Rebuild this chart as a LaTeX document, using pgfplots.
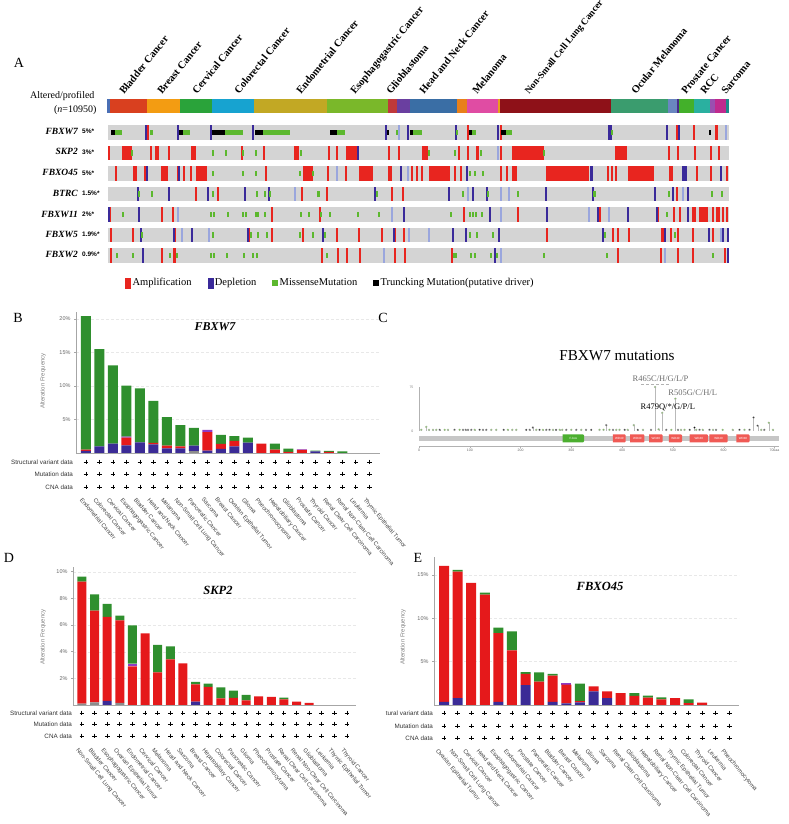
\documentclass[border=0pt]{standalone}
\usepackage{pgfplots}
\pgfplotsset{compat=1.18}
\usepackage{pgfplotstable}
\usepackage{fontspec}
\setmainfont{Liberation Serif}
\newfontfamily\sans{Liberation Sans}
\newcommand{\fs}[1]{\fontsize{#1}{#1}\selectfont}
\definecolor{cred}{HTML}{E5191B}
\definecolor{cblue}{HTML}{3B2B96}
\definecolor{cgreen}{HTML}{2F8F2E}
\definecolor{cpurple}{HTML}{8E3CC6}
\definecolor{cgray}{HTML}{8C8C8C}
\definecolor{ored}{HTML}{E8251F}
\definecolor{oblue}{HTML}{3A2A9A}
\definecolor{olblue}{HTML}{9AA6DD}
\definecolor{ogreen}{HTML}{5CB82E}
\definecolor{ctrack}{HTML}{D4D4D4}
\definecolor{t1}{HTML}{4A6FB5}\definecolor{t2}{HTML}{D9401F}\definecolor{t3}{HTML}{F39C12}
\definecolor{t4}{HTML}{2AA33A}\definecolor{t5}{HTML}{17A3D0}\definecolor{t6}{HTML}{C2A824}
\definecolor{t7}{HTML}{7AB82A}\definecolor{t8}{HTML}{C0393B}\definecolor{t9}{HTML}{6A3FA0}
\definecolor{t10}{HTML}{3A6EA5}\definecolor{t11}{HTML}{E8801A}\definecolor{t12}{HTML}{E04CA3}
\definecolor{t13}{HTML}{E8A01A}\definecolor{t14}{HTML}{8E1118}\definecolor{t15}{HTML}{3A9C6E}
\definecolor{t16}{HTML}{6A86C0}\definecolor{t17}{HTML}{4A2A8A}\definecolor{t18}{HTML}{43B02A}
\definecolor{t19}{HTML}{2AB0A0}\definecolor{t20}{HTML}{9A4FB0}\definecolor{t21}{HTML}{C02A8E}
\definecolor{t22}{HTML}{1F8A8A}
\definecolor{cdom}{HTML}{F05A55}
\definecolor{cfbox}{HTML}{4CAF30}
\definecolor{lgreen}{HTML}{6ABF3A}

\pgfplotsset{ev/.style 2 args={draw=none, mark=none, error bars/.cd, x dir=both, x explicit, error mark=none, error bar style={line width=#2, draw=#1}}}
\newcommand{\seg}[3]{\addplot[ev={#1}{14.5pt}] coordinates {(#2,-1.29) +- (#3,0)};}

\pgfplotstableread{
x w r
40 0.9 0
360 0.9 0
393 0.9 0
569 0.9 0
586 0.9 0
608.5 1.2 0
0.5 0.9 1
19 5 1
43 0.9 1
49 2 1
61 0.9 1
85.5 2.5 1
134 0.9 1
156 0.9 1
188.5 2.5 1
221 0.9 1
229 0.9 1
244 6 1
281 0.9 1
291 0.9 1
317 3 1
351 0.9 1
360 0.9 1
369.5 1.5 1
393 0.9 1
420 16 1
513 6 1
561 0.9 1
570 0.9 1
587 0.9 1
603 0.9 1
611 1 1
8 0.9 2
27 2 2
37 0.9 2
56.5 3.5 2
70 0.9 2
76 0.9 2
83 0.9 2
93.5 5.5 2
158 0.9 2
200 5 2
220 0.9 2
238 0.9 2
258 7 2
281 0.9 2
283 0.9 2
304 0.9 2
309 0.9 2
314 0.9 2
331.5 10.5 2
347 0.9 2
353 0.9 2
393 0.9 2
399 0.9 2
406.5 2.5 2
459.5 21.5 2
500 0.9 2
504 0.9 2
508 1 2
533 13 2
562 0.9 2
564 0.9 2
589 0.9 2
603 0.9 2
619 0.9 2
88 0.9 3
110 0.9 3
194 0.9 3
219 0.9 3
284 0.9 3
295 0.9 3
569 0.9 3
2 0.9 4
54 0.9 4
64.5 1 4
164 0.9 4
212 0.9 4
356 0.9 4
410 0.9 4
492 0.9 4
550 0.9 4
566 0.9 4
572 0.9 4
586 2 4
595.5 4.5 4
605 0.9 4
609 0.9 4
611 0.9 4
615 0.9 4
619 0.9 4
3 0.9 5
25 0.9 5
67 0.9 5
141 0.9 5
164 0.9 5
195 0.9 5
229 0.9 5
251 0.9 5
274 0.9 5
287 0.9 5
296 1 5
439 0.9 5
505 0.9 5
510 0.9 5
521 0.9 5
555 2 5
563 0.9 5
570 0.9 5
585 0.9 5
605 0.9 5
3 0.9 6
54 0.9 6
66.5 1.5 6
214 0.9 6
230 0.9 6
239 0.9 6
252 0.9 6
287 0.9 6
297 0.9 6
344 0.9 6
510 0.9 6
553 0.9 6
570 0.9 6
585 0.9 6
617 0.9 6
}\OncoRed

\pgfplotstableread{
x w r
38 0.9 0
70 0.9 0
103 0.9 0
145 0.9 0
278 1 0
300 0.9 0
348 1 0
390 0.9 0
502 2 0
559 0.9 0
571 0.9 0
250 0.9 1
39 0.9 2
71 0.9 2
293 1 2
359 0.9 2
483 1.5 2
576.5 2.5 2
613 0.9 2
30 0.9 3
61 0.9 3
100 0.9 3
137 0.9 3
161 0.9 3
267 0.9 3
341 0.9 3
365 0.9 3
379 0.9 3
438 0.9 3
485 0.9 3
547 0.9 3
565 0.9 3
580 0.9 3
1 0.9 4
31 0.9 4
296 0.9 4
382 0.9 4
439 0.9 4
490 0.9 4
520 0.9 4
549 1 4
580 0.9 4
33 0.9 5
66 0.9 5
84 0.9 5
140 0.9 5
215 0.9 5
286 0.9 5
345 0.9 5
358 0.9 5
391 0.9 5
495 0.9 5
557 0.9 5
601 0.9 5
615 0.9 5
620 0.9 5
34.5 1 6
387 0.9 6
620 0.9 6
}\OncoBlue

\pgfplotstableread{
x w r
291 0.7 0
618 0.7 0
390 0.7 1
229 0.7 2
300 0.7 2
187 0.7 3
360 0.7 3
393 0.7 3
401 0.7 3
575 0.7 3
70 0.7 4
284 0.7 4
393 0.7 4
481 0.7 4
501 0.7 4
74 0.7 5
101 0.7 5
301 0.7 5
321 0.7 5
613 0.7 5
276 0.7 6
393 0.7 6
557 0.7 6
}\OncoLBlue

\pgfplotstableread{
x w r
10.5 3.5 0
43.5 1.5 0
78.5 3.5 0
126 9 0
168.5 13.5 0
233 4 0
289 0.8 0
309.5 4.5 0
349 0.8 0
366 2 0
401 3 0
504 0.8 0
24 0.8 1
105 0.6 1
118 0.6 1
134.5 0.6 1
148 0.6 1
193 0.8 1
321 0.8 1
347 0.6 1
373 1 1
436 0.8 1
105 0.6 2
135 0.6 2
148 0.6 2
192 0.6 2
205 0.8 2
362 0.6 2
367 0.6 2
375 0.8 2
31 0.8 3
44 0.6 3
105 0.6 3
149 0.6 3
157 0.6 3
162 0.8 3
210.5 1.5 3
269 0.8 3
355 0.8 3
380 0.8 3
410 0.6 3
486.5 1.5 3
561 0.6 3
604 0.6 3
614 0.6 3
15 0.6 4
103 0.6 4
106 0.6 4
120 0.6 4
135 0.6 4
138 0.6 4
148 0.6 4
150 0.6 4
157 0.6 4
193 0.6 4
201 0.6 4
213 0.8 4
222 0.6 4
250 0.6 4
271 0.8 4
343 0.6 4
362 0.6 4
365 0.6 4
368 0.6 4
374 0.8 4
559 0.6 4
34 0.8 5
105 0.6 5
143 1 5
150 0.6 5
159 0.6 5
192 0.6 5
205 0.8 5
217 0.8 5
362 0.6 5
369 0.6 5
385 1 5
497 0.6 5
567 0.6 5
9 0.6 6
25 0.6 6
62 0.6 6
69 0.8 6
103 0.6 6
106 0.6 6
119 0.6 6
136 0.6 6
145 0.6 6
149 0.6 6
219 0.6 6
346 0.6 6
348 0.6 6
363 0.6 6
367 0.6 6
383 0.6 6
388.5 1 6
436 0.6 6
499 0.8 6
605 0.6 6
}\OncoGreen

\pgfplotstableread{
x w r
5 2 0
73 2 0
110.5 6.5 0
151 4 0
225.5 3.5 0
280 0.8 0
303.5 1.5 0
362.5 1.5 0
395.5 2.5 0
602 0.6 0
}\OncoBlack

\pgfplotstableread{
i gray blue red purple green
0 0 0.3 0.2 0 19.95
1 0 1.0 0 0 14.5
2 0 1.4 0 0 11.67
3 0 1.15 1.15 0.15 7.6
4 0 1.6 0 0 8.05
5 0 1.3 0.2 0 6.27
6 0 0.7 0.4 0 4.25
7 0 0.7 0.3 0 3.16
8 0.3 0.8 0 0 2.66
9 0 0.35 2.75 0.37 0
10 0 0.6 0.75 0 1.37
11 0 1.0 0.8 0 0.72
12 0 1.55 0 0 0.73
13 0 0 1.39 0 0
14 0 0 0.5 0 0.89
15 0 0 0.15 0 0.49
16 0 0 0.45 0.1 0
17 0 0.25 0 0 0.1
18 0 0 0.15 0 0.15
19 0 0 0 0 0.25
20 0 0 0 0 0
21 0 0 0 0 0
}\Bdata

\pgfplotstableread{
i gray blue red purple green
0 0.1 0 9.15 0 0.38
1 0.2 0 6.88 0 1.22
2 0 0.3 6.3 0 0.98
3 0.15 0 6.2 0 0.35
4 0 0 2.9 0.2 2.88
5 0 0 5.38 0 0
6 0 0 2.45 0 2.05
7 0 0 3.43 0 0.97
8 0 0 3.13 0 0
9 0 0.25 1.3 0 0.18
10 0 0 1.35 0 0.25
11 0 0 0.5 0 0.83
12 0 0 0.53 0 0.55
13 0 0 0.35 0 0.4
14 0 0 0.65 0 0
15 0 0 0.6 0 0
16 0 0 0.43 0 0.12
17 0 0 0.25 0 0
18 0 0 0.15 0 0
19 0 0 0 0 0
20 0 0 0 0 0
21 0 0 0 0 0
}\Ddata

\pgfplotstableread{
i gray blue red purple green
0 0 0.35 15.69 0 0
1 0 0.8 14.58 0 0.2
2 0 0 14.08 0 0
3 0 0 12.73 0 0.23
4 0 0.35 7.95 0 0.62
5 0 0 6.3 0 2.2
6 0 2.3 1.28 0 0.22
7 0 0 2.7 0 1.07
8 0 0.35 3.03 0 0.22
9 0 0.2 2.15 0.15 0
10 0 0.3 0.15 0 2.01
11 0 1.58 0.57 0 0
12 0 0.8 0.78 0 0
13 0 0 1.38 0 0
14 0 0 1.04 0 0.34
15 0 0 0.85 0 0.23
16 0 0 0.65 0 0.23
17 0 0 0.8 0 0
18 0 0 0.23 0 0.42
19 0 0 0.27 0 0
20 0 0 0 0 0
21 0 0 0 0 0
}\Edata

\pgfplotstableread{
aa n
4.6 2
14.4 7
19.7 2
27.6 2
34 2
50.5 2
57 2
80 2
109.6 2
142.4 2
152 2
175 2
183.7 2
191.6 2
231 2
244 2
263.8 2
277 2
282 2
300 2
319.6 2
355.6 2
363.5 2
375 2
388.5 2
395 2
411 2
423 10
441 2
465 75
472 3
479 31
497 2
505 55
516 2
523 2
546 2
559 2
579 2
598 2
618 2
641 2
674 2
689 14
697 2
}\LolGreen

\pgfplotstableread{
aa n
40.7 2
70 2
86.6 2
92 2
96.5 2
103 2
119.4 2
126 2
132.5 2
166.7 2
211 2
218 2
224.4 6
237.5 2
250.7 2
257 2
270 2
290 2
309.7 2
329 2
339 2
368.8 10
382 2
405 2
431 2
457 2
487 2
510 2
533 2
542.6 6
552.5 2
572 2
585 2
631 2
651 2
659 23
667 9
680 2
}\LolBlack

\pgfplotsset{
  barpanel/.style={scale only axis, anchor=south west, ybar stacked, ymin=0,
    axis lines=left, axis line style={-, draw=gray!70, line width=0.6pt},
    xtick={0,...,21}, xtick style={draw=none}, ytick style={draw=gray!70, thin},
    major tick length=2pt, tick align=outside,
    ymajorgrids, grid style={densely dashed, gray!18, line width=0.3pt},
    yticklabel style={font=\sans\fs{5.5}, text=gray!80!black},
    xticklabel style={font=\sans\fs{5.9}, text=black!75, yshift=-42pt, xshift=-3pt, rotate=-50, anchor=north west, inner sep=0pt},
    clip=false},
  plusrow/.style={scale only axis, anchor=north west, hide axis, clip=false, ymin=-40, ymax=0, height=40pt},
  pl/.style={only marks, mark=+, mark size=2.4pt, line width=0.95pt, black},
}

\newcommand{\stackbars}[1]{%
  \addplot[fill=cgray, draw=none] table[x=i, y=gray] {#1};
  \addplot[fill=cblue, draw=none] table[x=i, y=blue] {#1};
  \addplot[fill=cred, draw=none] table[x=i, y=red] {#1};
  \addplot[fill=cpurple, draw=none] table[x=i, y=purple] {#1};
  \addplot[fill=cgreen, draw=none] table[x=i, y=green] {#1};
}

\begin{document}
\begin{tikzpicture}[x=1pt,y=1pt]
\useasboundingbox (0,0) rectangle (789,824);

% ================= Panel A =================
\node[font=\fs{14}] at (19,761) {A};
\node[anchor=east, font=\fs{10}] at (98,728) {Altered/profiled};
\node[anchor=east, font=\fs{10}] at (100,714) {(\textit{n}=10950)};

\begin{axis}[scale only axis, width=621pt, height=172.2pt, at={(108pt,556.2pt)}, anchor=south west,
  xmin=0, xmax=621, ymin=-1.8, ymax=6.6, y dir=reverse, hide axis, clip=false]
  \addplot[ev={ctrack}{14.5pt}] coordinates {(310.5,0) +- (310.5,0) (310.5,1) +- (310.5,0) (310.5,2) +- (310.5,0) (310.5,3) +- (310.5,0) (310.5,4) +- (310.5,0) (310.5,5) +- (310.5,0) (310.5,6) +- (310.5,0)};
  \seg{t1}{0.5}{1.5}
  \seg{t2}{20.5}{18.5}
  \seg{t3}{55.5}{16.5}
  \seg{t4}{88}{16}
  \seg{t5}{125}{21}
  \seg{t6}{182.5}{36.5}
  \seg{t7}{249.5}{30.5}
  \seg{t8}{284.5}{4.5}
  \seg{t9}{295.5}{6.5}
  \seg{t10}{325.5}{23.5}
  \seg{t11}{354}{5}
  \seg{t12}{374.5}{15.5}
  \seg{t13}{391}{1}
  \seg{t14}{447.5}{55.5}
  \seg{t15}{531.5}{28.5}
  \seg{t16}{564.5}{4.5}
  \seg{t17}{570}{1}
  \seg{t18}{578.5}{7.5}
  \seg{t19}{594}{8}
  \seg{t20}{604.5}{2.5}
  \seg{t21}{612.5}{5.5}
  \seg{t22}{619.5}{1.5}
  \addplot[ev={olblue}{14.5pt}] table[x=x, y=r, x error=w] {\OncoLBlue};
  \addplot[ev={ored}{14.5pt}] table[x=x, y=r, x error=w] {\OncoRed};
  \addplot[ev={oblue}{14.5pt}] table[x=x, y=r, x error=w] {\OncoBlue};
  \addplot[ev={ogreen}{5.5pt}] table[x=x, y=r, x error=w] {\OncoGreen};
  \addplot[ev={black}{5.5pt}] table[x=x, y=r, x error=w] {\OncoBlack};
\end{axis}

% cancer type labels
\begin{scope}[every node/.style={anchor=base west, rotate=51, font=\bfseries\fs{10.5}, inner sep=0pt}]
\node at (124,729) {Bladder Cancer};
\node at (162,729) {Breast Cancer};
\node at (197,729) {Cervical Cancer};
\node at (239,729) {Colorectal Cancer};
\node at (301,729) {Endometrial Cancer};
\node at (355,729) {Esophagogastric Cancer};
\node at (391,729) {Glioblastoma};
\node at (424,729) {Head and Neck Cancer};
\node at (477,729) {Melanoma};
\node[font=\bfseries\fs{9.5}] at (529,729) {Non-Small Cell Lung Cancer};
\node at (636,729) {Ocular Melanoma};
\node at (686,729) {Prostate Cancer};
\node at (705,729) {RCC};
\node at (726,729) {Sarcoma};
\end{scope}

% gene labels
\begin{scope}[every node/.style={anchor=east, font=\bfseries\itshape\fs{9.5}, inner sep=0pt}]
\node at (78,693) {FBXW7};
\node at (78,672.3) {SKP2};
\node at (78,651.3) {FBXO45};
\node at (78,631) {BTRC};
\node at (78,610) {FBXW11};
\node at (78,590) {FBXW5};
\node at (78,570) {FBXW2};
\end{scope}
\begin{scope}[every node/.style={anchor=west, font=\sans\bfseries\fs{6.5}, inner sep=0pt}]
\node at (82,692.5) {5\%*};
\node at (82,671.8) {3\%*};
\node at (82,650.8) {5\%*};
\node at (82,630.5) {1.5\%*};
\node at (82,609.5) {2\%*};
\node at (82,589.5) {1.9\%*};
\node at (82,569.5) {0.9\%*};
\end{scope}

% legend
\begin{axis}[scale only axis, width=1pt, height=1pt, at={(125pt,541pt)}, anchor=south west,
  xmin=0, xmax=1, ymin=0, ymax=1, hide axis,
  legend style={at={(0,0)}, anchor=west, draw=none, fill=none, inner sep=0pt,
    font=\fs{10.5}, legend columns=4, /tikz/every even column/.append style={column sep=14pt}},
  legend cell align=left]
  \addlegendimage{legend image code/.code={\fill[ored] (0pt,-5pt) rectangle (5pt,5pt);}}
  \addlegendentry{Amplification}
  \addlegendimage{legend image code/.code={\fill[oblue] (0pt,-5pt) rectangle (5pt,5pt);}}
  \addlegendentry{Depletion}
  \addlegendimage{legend image code/.code={\fill[ogreen] (0pt,-2.5pt) rectangle (5pt,2.5pt);}}
  \addlegendentry{MissenseMutation}
  \addlegendimage{legend image code/.code={\fill[black] (0pt,-2.5pt) rectangle (5pt,2.5pt);}}
  \addlegendentry{Truncking Mutation(putative driver)}
\end{axis}

% ================= Panel B =================
\node[font=\fs{14}] at (18,506) {B};
\begin{axis}[barpanel, width=304pt, height=141.3pt, at={(76pt,371pt)},
  xmin=-0.74, xmax=21.78, ymax=21.1, bar width=10pt,
  ytick={5,10,15,20}, yticklabels={5\%,10\%,15\%,20\%},
  xticklabels={Endometrial Cancer,Colorectal Cancer,Cervical Cancer,Esophagogastric Cancer,Bladder Cancer,Head and Neck Cancer,Melanoma,Non-Small Cell Lung Cancer,Pancreatic Cancer,Sarcoma,Breast Cancer,Ovarian Epithelial Tumor,Glioma,Pheochromocytoma,Hepatobiliary Cancer,Glioblastoma,Prostate Cancer,Thyroid Cancer,Renal Clear Cell Carcinoma,Renal Non-Clear Cell Carcinoma,Leukemia,Thymic Epithelial Tumor}]
  \stackbars{\Bdata}
\end{axis}
\begin{axis}[plusrow, width=304pt, at={(76pt,371pt)}, xmin=-0.74, xmax=21.78]
  \addplot[pl] table[x=i, y expr=-9] {\Bdata};
  \addplot[pl] table[x=i, y expr=-21] {\Bdata};
  \addplot[pl] table[x=i, y expr=-34] {\Bdata};
\end{axis}
\node[font=\bfseries\itshape\fs{12}] at (215,497) {FBXW7};
\node[rotate=90, font=\sans\fs{6}, text=gray] at (43,443) {Alteration Frequency};
\begin{scope}[every node/.style={anchor=east, font=\sans\fs{6.3}, inner sep=0pt, text=black!80}]
\node at (73,362) {Structural variant data};
\node at (73,350) {Mutation data};
\node at (73,337) {CNA data};
\end{scope}

% ================= Panel C =================
\node[font=\fs{14}] at (383,506) {C};
\node[font=\fs{15.2}] at (617,468) {FBXW7 mutations};
\begin{axis}[scale only axis, width=360pt, height=62.2pt, at={(419pt,377.7pt)}, anchor=south west,
  xmin=0, xmax=709, ymin=-26, ymax=80, clip=false,
  axis x line=bottom, axis y line=none, axis line style={-, draw=gray!60, line width=0.3pt},
  xtick={0,100,200,300,400,500,600,700}, xticklabels={0,100,200,300,400,500,600,700aa},
  xtick style={draw=gray!60, line width=0.3pt}, major tick length=1.5pt, tick align=outside,
  xticklabel style={font=\sans\fs{3.5}, text=gray!80!black, inner sep=1pt}]
  \addplot[gray!60, line width=0.3pt] coordinates {(0,0) (0,75)};
  \addplot[fill=gray!45, draw=none] coordinates {(0,-8) (709,-8) (709,-16.5) (0,-16.5)};
  \addplot[fill=cfbox, draw=none, rounded corners=1pt] coordinates {(283,-5.6) (325,-5.6) (325,-19.3) (283,-19.3)};
  \addplot[fill=cdom, draw=none, rounded corners=1pt] coordinates {(382,-5.6) (407,-5.6) (407,-19.3) (382,-19.3)};
  \addplot[fill=cdom, draw=none, rounded corners=1pt] coordinates {(416,-5.6) (444,-5.6) (444,-19.3) (416,-19.3)};
  \addplot[fill=cdom, draw=none, rounded corners=1pt] coordinates {(453,-5.6) (480,-5.6) (480,-19.3) (453,-19.3)};
  \addplot[fill=cdom, draw=none, rounded corners=1pt] coordinates {(492,-5.6) (518,-5.6) (518,-19.3) (492,-19.3)};
  \addplot[fill=cdom, draw=none, rounded corners=1pt] coordinates {(533,-5.6) (569,-5.6) (569,-19.3) (533,-19.3)};
  \addplot[fill=cdom, draw=none, rounded corners=1pt] coordinates {(572,-5.6) (608,-5.6) (608,-19.3) (572,-19.3)};
  \addplot[fill=cdom, draw=none, rounded corners=1pt] coordinates {(625,-5.6) (651,-5.6) (651,-19.3) (625,-19.3)};
  \addplot[ycomb, gray!55, line width=0.3pt, mark=*, mark size=1pt, mark options={fill=black, draw=none}] table[x=aa, y=n] {\LolBlack};
  \addplot[ycomb, gray!55, line width=0.3pt, mark=*, mark size=1pt, mark options={fill=lgreen, draw=none}] table[x=aa, y=n] {\LolGreen};
  \addplot[gray!60, densely dashed, line width=0.3pt] coordinates {(437,80) (493,80)};
  \node[font=\sans\fs{3}, text=white] at (axis cs:304,-12.5) {F-box};
  \node[font=\sans\fs{3}, text=white] at (axis cs:394.5,-12.5) {WD40};
  \node[font=\sans\fs{3}, text=white] at (axis cs:430,-12.5) {WD40};
  \node[font=\sans\fs{3}, text=white] at (axis cs:466.5,-12.5) {WD40};
  \node[font=\sans\fs{3}, text=white] at (axis cs:505,-12.5) {WD40};
  \node[font=\sans\fs{3}, text=white] at (axis cs:551,-12.5) {WD40};
  \node[font=\sans\fs{3}, text=white] at (axis cs:590,-12.5) {WD40};
  \node[font=\sans\fs{3}, text=white] at (axis cs:638,-12.5) {WD40};
  \node[font=\sans\fs{3.5}, text=gray, anchor=east] at (axis cs:-4,0) {0};
  \node[font=\sans\fs{3.5}, text=gray, anchor=east] at (axis cs:-4,75) {75};
  \node[font=\fs{8.5}, text=gray!85!black] at (axis cs:475.7,88.6) {R465C/H/G/L/P};
  \node[font=\fs{8.5}, text=gray!85!black] at (axis cs:539,65) {R505G/C/H/L};
  \node[font=\fs{8.5}] at (axis cs:490,40) {R479Q/*/G/P/L};
\end{axis}

% ================= Panel D =================
\node[font=\fs{14}] at (9,266) {D};
\begin{axis}[barpanel, width=283pt, height=138pt, at={(73pt,119pt)},
  xmin=-0.71, xmax=21.71, ymax=10.35, bar width=9pt,
  ytick={2,4,6,8,10}, yticklabels={2\%,4\%,6\%,8\%,10\%},
  xticklabel style={yshift=1pt, xshift=-1pt},
  xticklabels={Non-Small Cell Lung Cancer,Bladder Cancer,Esophagogastric Cancer,Ovarian Epithelial Tumor,Endometrial Cancer,Cervical Cancer,Melanoma,Head and Neck Cancer,Sarcoma,Breast Cancer,Hepatobiliary Cancer,Colorectal Cancer,Pancreatic Cancer,Glioma,Pheochromocytoma,Prostate Cancer,Renal Clear Cell Carcinoma,Renal Non-Clear Cell Carcinoma,Glioblastoma,Leukemia,Thymic Epithelial Tumor,Thyroid Cancer}]
  \stackbars{\Ddata}
\end{axis}
\begin{axis}[plusrow, width=283pt, at={(73pt,119pt)}, xmin=-0.71, xmax=21.71]
  \addplot[pl] table[x=i, y expr=-8] {\Ddata};
  \addplot[pl] table[x=i, y expr=-19] {\Ddata};
  \addplot[pl] table[x=i, y expr=-31] {\Ddata};
\end{axis}
\node[font=\bfseries\itshape\fs{12.5}] at (218,234) {SKP2};
\node[rotate=90, font=\sans\fs{6}, text=gray] at (43,187) {Alteration Frequency};
\begin{scope}[every node/.style={anchor=east, font=\sans\fs{6.3}, inner sep=0pt, text=black!80}]
\node at (72,111) {Structural variant data};
\node at (72,100) {Mutation data};
\node at (72,88) {CNA data};
\end{scope}

% ================= Panel E =================
\node[font=\fs{14}] at (418,266) {E};
\begin{axis}[barpanel, width=305pt, height=148pt, at={(434pt,119pt)},
  xmin=-0.74, xmax=21.71, ymax=17.07, bar width=10pt,
  ytick={5,10,15}, yticklabels={5\%,10\%,15\%},
  xticklabel style={yshift=-1pt, xshift=-2pt},
  xticklabels={Ovarian Epithelial Tumor,Non-Small Cell Lung Cancer,Cervical Cancer,Head and Neck Cancer,Esophagogastric Cancer,Endometrial Cancer,Prostate Cancer,Pancreatic Cancer,Bladder Cancer,Breast Cancer,Melanoma,Glioma,Sarcoma,Renal Clear Cell Carcinoma,Glioblastoma,Hepatobiliary Cancer,Renal Non-Clear Cell Carcinoma,Thymic Epithelial Tumor,Colorectal Cancer,Thyroid Cancer,Leukemia,Pheochromocytoma}]
  \stackbars{\Edata}
\end{axis}
\begin{axis}[plusrow, width=305pt, at={(434pt,119pt)}, xmin=-0.74, xmax=21.71]
  \addplot[pl] table[x=i, y expr=-8] {\Edata};
  \addplot[pl] table[x=i, y expr=-21] {\Edata};
  \addplot[pl] table[x=i, y expr=-33] {\Edata};
\end{axis}
\node[font=\bfseries\itshape\fs{12.5}] at (600,238) {FBXO45};
\node[rotate=90, font=\sans\fs{6}, text=gray] at (403,187) {Alteration Frequency};
\begin{scope}[every node/.style={anchor=east, font=\sans\fs{6.3}, inner sep=0pt, text=black!80}]
\node at (433,111) {tural variant data};
\node at (433,98) {Mutation data};
\node at (433,86) {CNA data};
\end{scope}

\end{tikzpicture}
\end{document}
